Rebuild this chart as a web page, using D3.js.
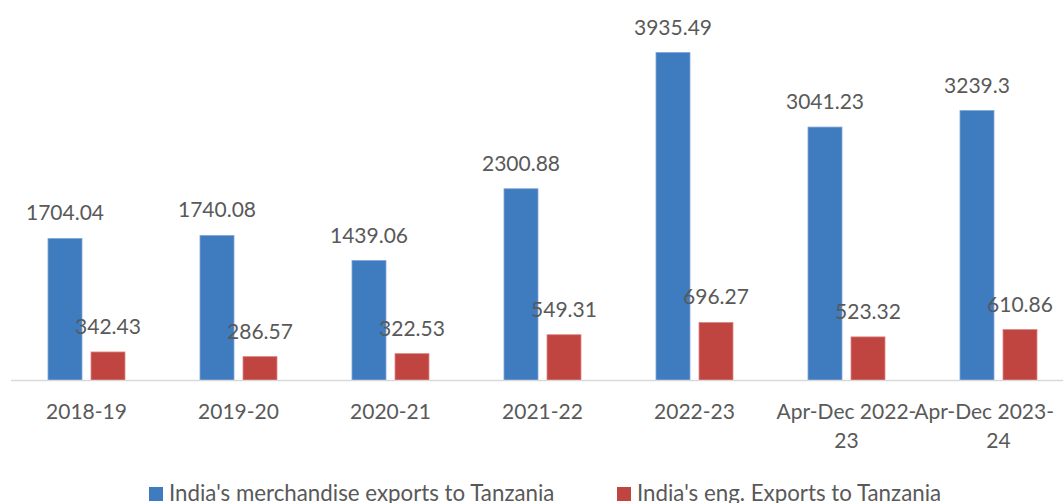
<!DOCTYPE html>
<html>
<head>
    <meta charset="utf-8">
    <title>India exports to Tanzania</title>
    <script src="https://d3js.org/d3.v7.min.js"></script>
    <style>
        body { margin: 0; background: #fff; }
        svg { display: block; font-family: Lato, "Open Sans", sans-serif; }
        .value-label { font-size: 21px; fill: #595959; text-anchor: middle; }
        .cat-label { font-size: 21px; fill: #595959; text-anchor: middle; }
        .legend-text { font-size: 22.3px; fill: #595959; }
    </style>
</head>
<body>
    <div id="chart"></div>

    <script>
        // data
        const categories = ["2018-19", "2019-20", "2020-21", "2021-22", "2022-23", "Apr-Dec 2022-23", "Apr-Dec 2023-24"];
        const categoryLines = [["2018-19"], ["2019-20"], ["2020-21"], ["2021-22"], ["2022-23"], ["Apr-Dec 2022-", "23"], ["Apr-Dec 2023-", "24"]];
        const merchandise = [1704.04, 1740.08, 1439.06, 2300.88, 3935.49, 3041.23, 3239.3];
        const engineering = [342.43, 286.57, 322.53, 549.31, 696.27, 523.32, 610.86];
        const seriesNames = ["India's merchandise exports to Tanzania", "India's eng. Exports to Tanzania"];
        const seriesColors = ["#3e7bbf", "#c0443f"];

        const width = 1063, height = 503;
        const baseY = 380.5;

        const svg = d3.select("#chart")
            .append("svg")
            .attr("width", width)
            .attr("height", height);

        const x0 = d3.scaleBand()
            .domain(categories)
            .range([10.5, 1074.5])
            .paddingInner(75 / 152)
            .paddingOuter(75 / 304);

        const x1 = d3.scaleBand()
            .domain([0, 1])
            .range([0, x0.bandwidth()])
            .paddingInner(9 / 43);

        const y = d3.scaleLinear()
            .domain([0, 4500])
            .range([baseY, 5.5]);

        const rows = categories.map((c, i) => ({cat: c, vals: [merchandise[i], engineering[i]]}));

        // bars
        const groups = svg.selectAll(".group")
            .data(rows)
            .enter()
            .append("g")
            .attr("transform", d => `translate(${x0(d.cat)},0)`);

        groups.selectAll("rect")
            .data(d => d.vals.map((v, s) => ({v, s})))
            .enter()
            .append("rect")
            .attr("x", d => x1(d.s))
            .attr("y", d => y(d.v))
            .attr("width", x1.bandwidth())
            .attr("height", d => baseY - y(d.v))
            .attr("fill", d => seriesColors[d.s])
            .attr("stroke", d => d.s === 0 ? "#7fa6d6" : "#d98986")
            .attr("stroke-width", 0.8);

        // axis line
        svg.append("line")
            .attr("x1", 11)
            .attr("x2", width)
            .attr("y1", baseY)
            .attr("y2", baseY)
            .attr("stroke", "#d9d9d9")
            .attr("stroke-width", 1.5);

        // value labels
        groups.selectAll(".value-label")
            .data(d => d.vals.map((v, s) => ({v, s})))
            .enter()
            .append("text")
            .attr("class", "value-label")
            .attr("x", d => x1(d.s) + x1.bandwidth() / 2)
            .attr("y", d => y(d.v) - 18)
            .text(d => d.v);

        // category labels, a line running past the right edge is pulled back in
        categories.forEach((c, i) => {
            const cx = x0(c) + x0.bandwidth() / 2;
            categoryLines[i].forEach((line, j) => {
                const t = svg.append("text")
                    .attr("class", "cat-label")
                    .attr("x", cx)
                    .attr("y", 419 + j * 29)
                    .text(line);
                const box = t.node().getBBox();
                const over = box.x + box.width - 1054;
                if (over > 0) t.attr("x", cx - over);
            });
        });

        // legend
        const legendX = [149, 617];
        seriesNames.forEach((name, i) => {
            svg.append("rect")
                .attr("x", legendX[i])
                .attr("y", 487)
                .attr("width", 14)
                .attr("height", 14)
                .attr("fill", seriesColors[i]);
            svg.append("text")
                .attr("class", "legend-text")
                .attr("x", legendX[i] + 20)
                .attr("y", 501)
                .text(name);
        });
    </script>
</body>
</html>
